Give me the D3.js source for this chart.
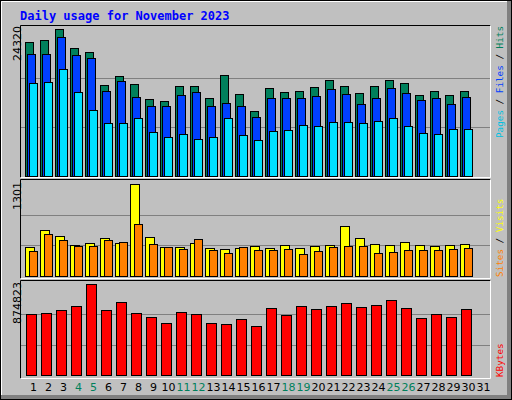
<!DOCTYPE html>
<html><head><meta charset="utf-8">
<script src="https://cdn.jsdelivr.net/npm/d3@7"></script>
<style>body{margin:0;background:#fff}svg{display:block}</style>
</head><body><svg id="c" width="512" height="400"></svg>
<script>
const days = d3.range(1, 32);
const weekendDays = [4,5,11,12,18,19,25,26];
const hits = [22170,22500,24320,21170,20510,15050,16540,15220,12740,12410,14890,14890,12900,16710,13560,10750,14560,13890,14060,14720,15880,14890,13730,14890,15880,15380,13400,14060,13400,14060];
const files = [20180,20180,22990,20010,19520,14060,15710,13070,11580,11580,13400,13890,11580,12070,11580,9760,12900,12900,12900,13230,14390,13560,11910,12900,14560,13730,12570,12900,11910,13070];
const pages = [15380,15550,17700,13890,10920,8770,8770,9590,7280,6450,6950,6120,6450,9590,6780,5950,7440,7610,8440,8270,8930,8930,8770,9100,9590,8270,7110,6950,7770,7770];
const visits = [406,646,561,434,462,533,462,1301,547,406,406,462,392,378,392,420,392,434,392,420,434,703,533,448,434,477,434,420,434,448];
const sites = [349,590,505,420,420,505,477,731,448,406,378,519,363,321,406,363,363,378,307,349,406,420,420,321,335,363,363,363,378,392];
const kbytes = [586400,596000,624800,663300,874823,624800,701700,596000,557600,499900,605600,586400,499900,490300,538300,471000,644100,576800,663300,634500,663300,692100,653700,672900,721000,644100,547900,586400,557600,634500];
const maxLabels = ["24320","1301","874823"];
const title = "Daily usage for November 2023";

const svg = d3.select("#c");
const mono = "DejaVu Sans Mono, monospace";
// frame
svg.append("rect").attr("x",0.5).attr("y",0.5).attr("width",511).attr("height",399).attr("fill","#c0c0c0").attr("stroke","#000");
svg.append("rect").attr("x",507).attr("y",1).attr("width",4).attr("height",398).attr("fill","#808080");
svg.append("rect").attr("x",1).attr("y",395).attr("width",510).attr("height",4).attr("fill","#808080");
svg.append("path").attr("d","M1.5,395V1.5H507").attr("stroke","#fff").attr("fill","none");

svg.append("text").attr("x",20).attr("y",20).attr("font-family",mono).attr("font-weight","bold")
  .attr("font-size",12).attr("fill","#0000ff").text(title);

const x = d3.scaleBand().domain(days).range([25, 25+15*31]).paddingInner(0);

const panels = [
  {top:25, bottom:177, y0:176, y1:29},
  {top:179, bottom:278, y0:276, y1:184},
  {top:280, bottom:378, y0:375, y1:284},
];
panels.forEach(p=>{
  svg.append("rect").attr("x",20).attr("y",p.top).attr("width",470).attr("height",p.bottom-p.top).attr("fill","#c0c0c0");
  svg.append("path").attr("d",`M20.5,${p.bottom+0.5}V${p.top+0.5}H490.5`).attr("stroke","#000").attr("fill","none");
  svg.append("path").attr("d",`M20.5,${p.bottom+0.5}H490.5V${p.top+0.5}`).attr("stroke","#fff").attr("fill","none");
});

function panelScale(p, max){ return d3.scaleLinear().domain([0,max]).range([p.y0,p.y1]); }
function grid(p, y, max){
  [max/3, 2*max/3].forEach(v=>{
    svg.append("line").attr("x1",21).attr("x2",490).attr("y1",Math.round(y(v))+0.5).attr("y2",Math.round(y(v))+0.5).attr("stroke","#808080");
  });
}
function bars(data, y, off, w, color){
  svg.append("g").selectAll("rect").data(data).join("rect")
    .attr("x",(d,i)=>x(i+1)+off+0.5).attr("width",w)
    .attr("y",d=>Math.round(y(d))+0.5).attr("height",d=>y(0)-Math.round(y(d)))
    .attr("fill",color).attr("stroke","#000");
}
function yLabel(txt, yTop){
  svg.append("text").attr("transform",`translate(17,${yTop}) rotate(-90)`).attr("text-anchor","end")
    .attr("dy","0.35em").attr("font-family","DejaVu Sans, sans-serif").attr("font-size",11).attr("fill","#000").text(txt);
}
function legend(parts, yBottom){
  const t = svg.append("text").attr("transform",`translate(503,${yBottom}) rotate(-90)`)
    .attr("font-family",mono).attr("font-size",9.3);
  parts.forEach(([s,c])=>t.append("tspan").attr("fill",c).text(s));
}

const y1 = panelScale(panels[0], 24320);
grid(panels[0], y1, 24320);
bars(hits, y1, 0, 8, "#00805c");
bars(files, y1, 2, 8, "#0040ff");
bars(pages, y1, 4, 8, "#00e0ff");
yLabel(maxLabels[0], 26);
legend([["Pages","#00c0e0"],[" / ","#000"],["Files","#0040ff"],[" / ","#000"],["Hits","#00805c"]], 138);

const y2 = panelScale(panels[1], 1301);
grid(panels[1], y2, 1301);
bars(visits, y2, 0, 9, "#ffff00");
bars(sites, y2, 4, 8, "#ff8000");
yLabel(maxLabels[1], 182);
legend([["Sites","#ff8000"],[" / ","#000"],["Visits","#ffff00"]], 277);

const y3 = panelScale(panels[2], 874823);
grid(panels[2], y3, 874823);
bars(kbytes, y3, 1, 10, "#ff0000");
yLabel(maxLabels[2], 282);
legend([["KBytes","#ff0000"]], 377);

const ax = svg.append("g").attr("transform","translate(0,383)")
  .call(d3.axisBottom(x).tickSize(0).tickPadding(0));
ax.select(".domain").remove();
ax.selectAll("text").attr("font-family","DejaVu Sans, sans-serif").attr("font-size",11).attr("dy","0.71em")
  .attr("fill",d=>weekendDays.includes(d)?"#00805c":"#000")
  .attr("x",1);
</script></body></html>
